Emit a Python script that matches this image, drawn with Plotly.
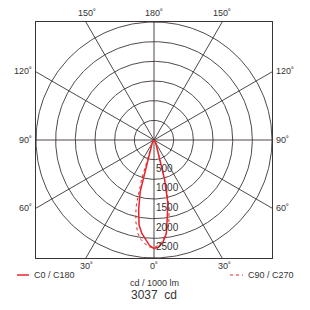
import numpy as np
import plotly.graph_objects as go

# ---- data (cd / 1000 lm) ----
gamma = [0, 2.5, 5, 7.5, 10, 12.5, 15, 17.5, 20, 22.5, 25, 30, 35, 40, 45, 50, 60, 70, 80, 90]
c0   = [2760, 2720, 2610, 2400, 1960, 1610, 1030, 500, 240, 170, 130, 90, 50, 30, 15, 5, 0, 0, 0, 0]
c180 = [2760, 2680, 2540, 2390, 2190, 1800, 1350, 690, 260, 180, 130, 90, 50, 30, 15, 5, 0, 0, 0, 0]
c90  = [2740, 2670, 2560, 2380, 2170, 1770, 1200, 560, 230, 170, 130, 90, 50, 30, 15, 5, 0, 0, 0, 0]
c270 = [2740, 2720, 2650, 2550, 2400, 2130, 1770, 1050, 380, 200, 140, 90, 50, 30, 15, 5, 0, 0, 0, 0]
ring_values = [500, 1000, 1500, 2000, 2500, 3000]
ring_labels = ["500", "1000", "1500", "2000", "2500"]
spoke_angles = [0, 30, 60, 90, 120, 150]
max_cd = "3037  cd"
unit = "cd / 1000 lm"

RED = "#e8252b"
GRID = "#3c3434"
TXT = "#333333"
FONT = "Liberation Sans Narrow, Liberation Sans, Arial"

def curve(left, right):
    g = np.radians(gamma)
    l = np.array(left, float)
    r = np.array(right, float)
    xl = -l * np.sin(g); yl = -l * np.cos(g)
    xr = r * np.sin(g); yr = -r * np.cos(g)
    return np.concatenate([xl[::-1], xr]), np.concatenate([yl[::-1], yr])

fig = go.Figure()

# grid circles
t = np.linspace(0, 2 * np.pi, 361)
for rv in ring_values:
    fig.add_trace(go.Scatter(x=rv * np.cos(t), y=rv * np.sin(t), mode="lines",
                             line=dict(color=GRID, width=0.9), hoverinfo="skip", showlegend=False))
# spokes
L = 9000
for a in spoke_angles:
    ar = np.radians(a)
    fig.add_trace(go.Scatter(x=[-L * np.sin(ar), L * np.sin(ar)], y=[L * np.cos(ar), -L * np.cos(ar)],
                             mode="lines", line=dict(color=GRID, width=0.9),
                             hoverinfo="skip", showlegend=False))

xs, ys = curve(c270, c90)
fig.add_trace(go.Scatter(x=xs, y=ys, mode="lines", line=dict(color=RED, width=1, dash="dot"),
                         showlegend=False))
xs, ys = curve(c180, c0)
fig.add_trace(go.Scatter(x=xs, y=ys, mode="lines", line=dict(color=RED, width=1.5),
                         showlegend=False))

R = ring_values[-1]
fig.update_xaxes(range=[-R, R], showgrid=False, zeroline=False, showticklabels=False,
                 showline=True, mirror=True, linecolor=GRID, linewidth=1, ticks="")
fig.update_yaxes(range=[-R, R], showgrid=False, zeroline=False, showticklabels=False,
                 showline=True, mirror=True, linecolor=GRID, linewidth=1, ticks="")

ML, MR, MT, MB = 36, 38, 22, 52
W = 310 - ML - MR
H = 310 - MT - MB
def px(x): return (x - ML) / W
def py(y): return (310 - MB - y) / H

ann = []
# ring labels
for v, lab in zip(ring_values, ring_labels):
    ann.append(dict(x=0, y=-v, xref="x", yref="y", text=lab, showarrow=False,
                    xanchor="left", yanchor="top", xshift=0, yshift=-1,
                    font=dict(size=10, color=TXT, family=FONT)))

def lab(x, y, text, xa="center", size=9):
    ann.append(dict(x=px(x), y=py(y), xref="paper", yref="paper", text=text, showarrow=False,
                    xanchor=xa, yanchor="middle", font=dict(size=size, color=TXT, family=FONT)))

lab(87, 13, "150˚"); lab(154, 13, "180˚"); lab(222, 13, "150˚")
lab(34, 71, "120˚", "right"); lab(274, 71, "120˚", "left")
lab(34, 140, "90˚", "right"); lab(274, 140, "90˚", "left")
lab(34, 208, "60˚", "right"); lab(274, 208, "60˚", "left")
lab(86, 266, "30˚"); lab(154, 266, "0˚"); lab(224, 266, "30˚")
lab(32, 275, "C0 / C180", "left"); lab(246, 275, "C90 / C270", "left")
lab(154, 283, unit)
lab(154, 295, max_cd, size=12)

shapes = [
    dict(type="line", xref="paper", yref="paper", x0=px(17), x1=px(29), y0=py(275), y1=py(275),
         line=dict(color=RED, width=1.5)),
    dict(type="line", xref="paper", yref="paper", x0=px(230), x1=px(243), y0=py(275), y1=py(275),
         line=dict(color=RED, width=1, dash="dot")),
]

fig.update_layout(width=310, height=310, margin=dict(l=ML, r=MR, t=MT, b=MB),
                  paper_bgcolor="white", plot_bgcolor="white",
                  annotations=ann, shapes=shapes)
fig.write_html("out.html")
